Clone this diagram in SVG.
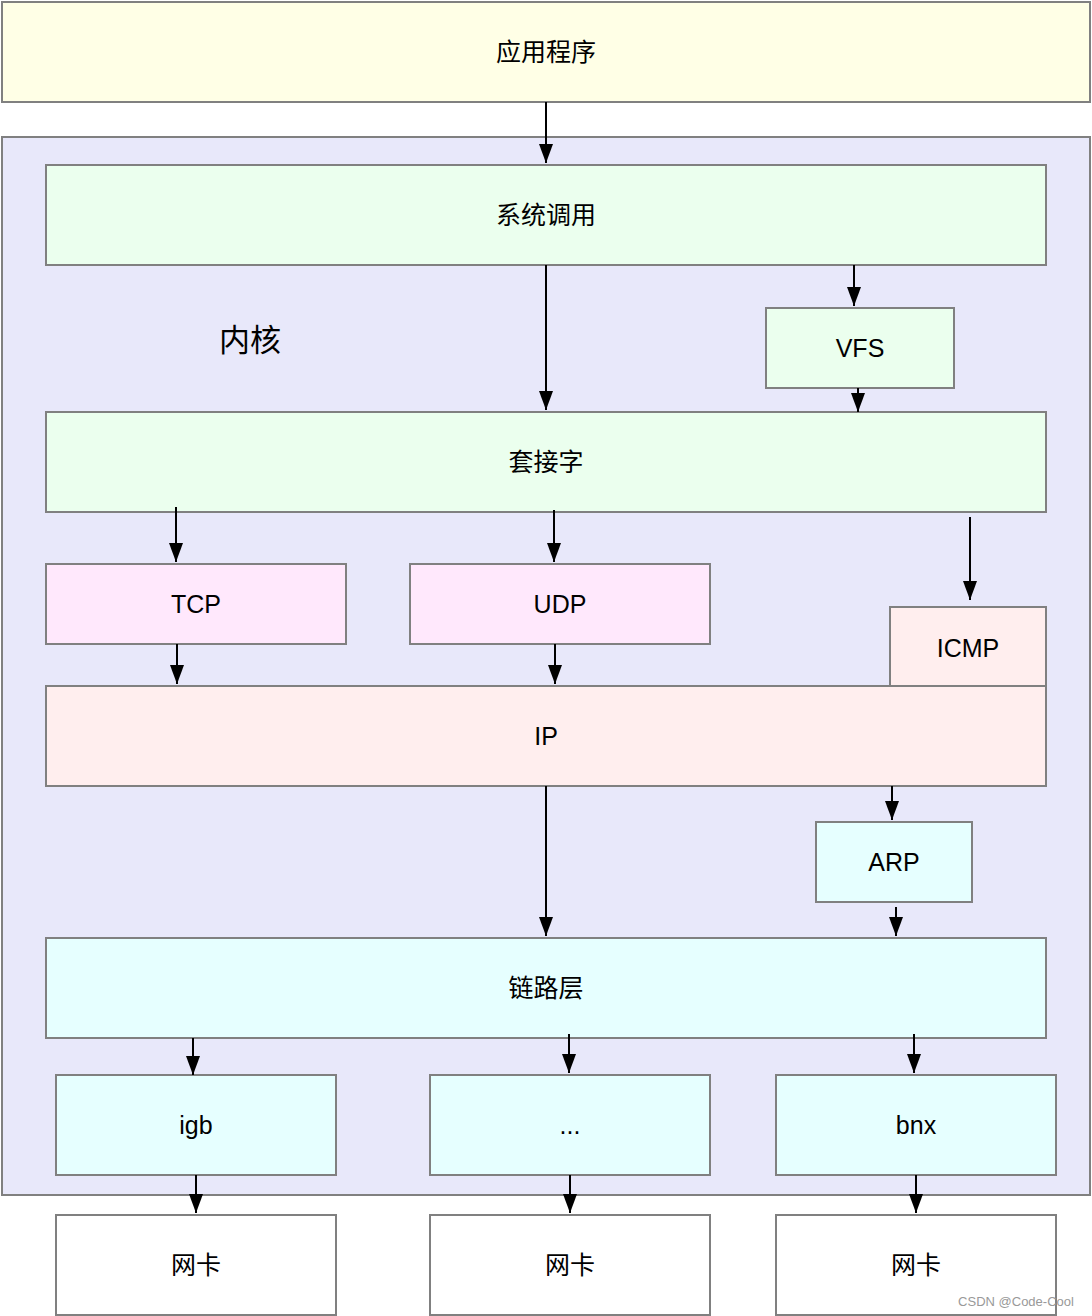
<svg xmlns="http://www.w3.org/2000/svg" width="1092" height="1316" viewBox="0 0 1092 1316">
<style>
.b{stroke:#808080;stroke-width:2}
.t{font-family:"Liberation Sans","Noto Sans CJK SC",sans-serif;font-size:25px;fill:#000;text-anchor:middle;dominant-baseline:central}
.a{stroke:#000;stroke-width:2;fill:none;marker-end:url(#ah)}
</style>
<defs>
<marker id="ah" markerUnits="userSpaceOnUse" markerWidth="20" markerHeight="16" viewBox="0 0 20 16" refX="19" refY="8" orient="auto">
<path d="M0,1 L19,8 L0,15 Z" fill="#000"/>
</marker>
</defs>
<rect width="1092" height="1316" fill="#fff"/>
<g id="app"><rect class="b" x="2" y="2" width="1088" height="100" fill="#FFFFE6"/><text class="t" x="546" y="52">应用程序</text></g>
<g id="kernel"><rect class="b" x="2" y="137" width="1088" height="1058" fill="#E8E8FA"/><text class="t" x="250" y="340" style="font-size:31px">内核</text></g>
<g id="syscall"><rect class="b" x="46" y="165" width="1000" height="100" fill="#EBFFEE"/><text class="t" x="546" y="215">系统调用</text></g>
<g id="vfs"><rect class="b" x="766" y="308" width="188" height="80" fill="#EBFFEE"/><text class="t" x="860" y="348">VFS</text></g>
<g id="socket"><rect class="b" x="46" y="412" width="1000" height="100" fill="#EBFFEE"/><text class="t" x="546" y="462">套接字</text></g>
<g id="tcp"><rect class="b" x="46" y="564" width="300" height="80" fill="#FFE8FC"/><text class="t" x="196" y="604">TCP</text></g>
<g id="udp"><rect class="b" x="410" y="564" width="300" height="80" fill="#FFE8FC"/><text class="t" x="560" y="604">UDP</text></g>
<g id="icmp"><rect class="b" x="890" y="607" width="156" height="80" fill="#FFEEEE"/><text class="t" x="968" y="648">ICMP</text></g>
<g id="ip"><rect class="b" x="46" y="686" width="1000" height="100" fill="#FFEEEE"/><text class="t" x="546" y="736">IP</text></g>
<g id="arp"><rect class="b" x="816" y="822" width="156" height="80" fill="#E6FFFF"/><text class="t" x="894" y="862">ARP</text></g>
<g id="link"><rect class="b" x="46" y="938" width="1000" height="100" fill="#E6FFFF"/><text class="t" x="546" y="988">链路层</text></g>
<g id="igb"><rect class="b" x="56" y="1075" width="280" height="100" fill="#E6FFFF"/><text class="t" x="196" y="1125">igb</text></g>
<g id="dots"><rect class="b" x="430" y="1075" width="280" height="100" fill="#E6FFFF"/><text class="t" x="570" y="1125">...</text></g>
<g id="bnx"><rect class="b" x="776" y="1075" width="280" height="100" fill="#E6FFFF"/><text class="t" x="916" y="1125">bnx</text></g>
<g id="nic1"><rect class="b" x="56" y="1215" width="280" height="100" fill="#fff"/><text class="t" x="196" y="1265">网卡</text></g>
<g id="nic2"><rect class="b" x="430" y="1215" width="280" height="100" fill="#fff"/><text class="t" x="570" y="1265">网卡</text></g>
<g id="nic3"><rect class="b" x="776" y="1215" width="280" height="100" fill="#fff"/><text class="t" x="916" y="1265">网卡</text></g>
<g id="connectors">
<path class="a" d="M546,102 V163"/>
<path class="a" d="M854,265 V306"/>
<path class="a" d="M858,388 V412"/>
<path class="a" d="M546,265 V410"/>
<path class="a" d="M176,507 V562"/>
<path class="a" d="M554,510 V562"/>
<path class="a" d="M970,517 V600"/>
<path class="a" d="M177,644 V684"/>
<path class="a" d="M555,644 V684"/>
<path class="a" d="M546,786 V936"/>
<path class="a" d="M892,786 V820"/>
<path class="a" d="M896,907 V936"/>
<path class="a" d="M193,1038 V1075"/>
<path class="a" d="M569,1034 V1073"/>
<path class="a" d="M914,1034 V1073"/>
<path class="a" d="M196,1175 V1213"/>
<path class="a" d="M570,1175 V1213"/>
<path class="a" d="M916,1175 V1213"/>
</g>
<text x="1016" y="1301" style="font-family:'Liberation Sans',sans-serif;font-size:13px;fill:#999;text-anchor:middle;dominant-baseline:central">CSDN @Code-Cool</text>
</svg>
